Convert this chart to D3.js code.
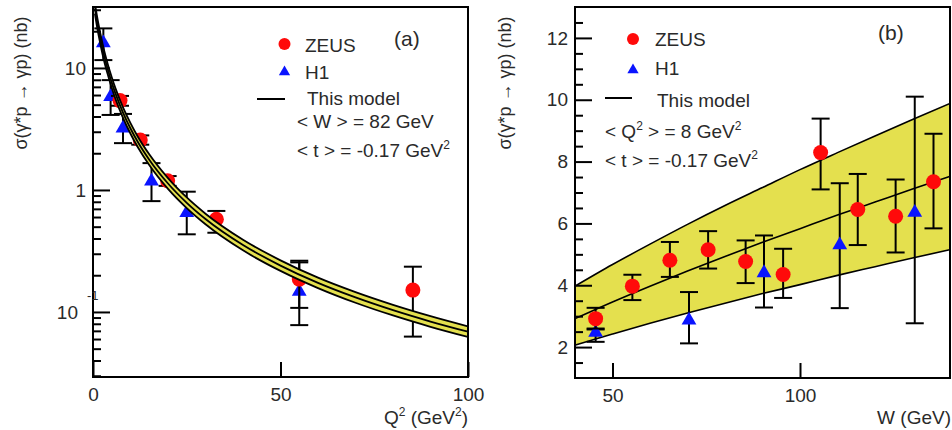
<!DOCTYPE html>
<html>
<head>
<meta charset="utf-8">
<script src="https://cdn.jsdelivr.net/npm/d3@7/dist/d3.min.js"></script>
<style>
  html, body { margin: 0; padding: 0; background: #fff; }
  svg { display: block; }
  text { font-family: "Liberation Sans", Arial, Helvetica, sans-serif; fill: #2a2a2a; }
</style>
</head>
<body>
<svg id="chart" width="952" height="430"></svg>
<script>
// ---- Panel (a): cross section vs Q^2 at <W> = 82 GeV ----
const zeusQ2     = [7.2, 12.6, 19.9, 32.9, 55.0, 85.3];
const zeusSigQ2  = [5.4, 2.57, 1.19, 0.575, 0.186, 0.151];
const zeusLoQ2   = [4.9, 2.35, 1.08, 0.446, 0.108, 0.0628];
const zeusHiQ2   = [5.9, 2.80, 1.30, 0.673, 0.255, 0.235];

const h1Q2       = [2.76, 4.7, 8.0, 15.6, 25.0, 55.0];
const h1SigQ2    = [16.0, 5.8, 3.2, 1.18, 0.65, 0.147];
const h1LoQ2     = [11.6, 4.12, 2.42, 0.81, 0.433, 0.078];
const h1HiQ2     = [21.1, 7.95, 4.2, 1.66, 0.968, 0.263];

const modelQ2    = [0.5, 1, 2, 3, 4, 5, 6, 8, 10, 12, 15, 20, 25, 30, 40, 50, 60, 70, 80, 90, 100];
const modelMidQ2 = [30.8, 24.7, 17.1, 12.5, 9.6, 7.58, 6.16, 4.31, 3.19, 2.46, 1.77, 1.13, 0.785, 0.578, 0.354, 0.240, 0.173, 0.1315, 0.1034, 0.0835, 0.0689];
const modelHiQ2  = [34.0, 27.3, 18.9, 13.8, 10.6, 8.4, 6.8, 4.76, 3.53, 2.72, 1.96, 1.25, 0.868, 0.639, 0.391, 0.265, 0.191, 0.1453, 0.1143, 0.0923, 0.0761];
const modelLoQ2  = [27.9, 22.4, 15.5, 11.3, 8.7, 6.86, 5.57, 3.9, 2.89, 2.23, 1.6, 1.02, 0.71, 0.523, 0.32, 0.217, 0.157, 0.119, 0.0936, 0.0756, 0.0624];

const q2Ticks    = [0, 50, 100];
const sigTicksA  = [0.1, 1, 10];

// ---- Panel (b): cross section vs W at <Q^2> = 8 GeV^2 ----
const zeusW      = [45.5, 55.3, 65.3, 75.5, 85.5, 95.5, 105.5, 115.4, 125.5, 135.6];
const zeusSigW   = [2.92, 3.97, 4.81, 5.15, 4.77, 4.35, 8.29, 6.45, 6.23, 7.35];
const zeusLoW    = [2.60, 3.52, 4.27, 4.54, 4.07, 3.59, 7.10, 5.30, 5.06, 5.84];
const zeusHiW    = [3.27, 4.34, 5.40, 5.75, 5.45, 5.18, 9.39, 7.60, 7.42, 8.90];

const h1W        = [45.5, 70.4, 90.4, 110.6, 130.6];
const h1SigW     = [2.47, 2.87, 4.40, 5.30, 6.35];
const h1LoW      = [2.17, 2.12, 3.28, 3.26, 2.77];
const h1HiW      = [2.57, 3.78, 5.61, 7.30, 10.1];

const modelW     = [40, 50, 60, 70, 80, 90, 100, 110, 120, 130, 140];
const modelHiW   = [3.97, 4.67, 5.33, 5.97, 6.58, 7.16, 7.74, 8.29, 8.83, 9.36, 9.88];
const modelMidW  = [2.92, 3.46, 3.97, 4.46, 4.93, 5.39, 5.83, 6.27, 6.69, 7.11, 7.52];
const modelLoW   = [2.06, 2.42, 2.77, 3.10, 3.42, 3.73, 4.02, 4.32, 4.60, 4.88, 5.15];

const wTicks     = [50, 100];
const sigTicksB  = [2, 4, 6, 8, 10, 12];

const yTitle = "σ(γ*p → γp) (nb)";

const RED = "#ff0a0a", BLUE = "#0a14ff", YELLOW = "#e4e04e";
const FS = 19;

const svg = d3.select("#chart");

function zipPts(xs, ys) { return xs.map((x, i) => ({ x, y: ys[i] })); }

function drawPanel(cfg) {
  const { x, y, id } = cfg;
  const [x0, x1] = x.range(), [y0, y1] = y.range();
  const g = svg.append("g");

  svg.append("defs").append("clipPath").attr("id", id)
    .append("rect").attr("x", x0).attr("y", y1).attr("width", x1 - x0).attr("height", y0 - y1);
  const plot = g.append("g").attr("clip-path", `url(#${id})`);

  const band = d3.area().x(d => x(d.x)).y0(d => y(d.lo)).y1(d => y(d.hi)).curve(d3.curveMonotoneX);
  const line = d3.line().x(d => x(d.x)).y(d => y(d.y)).curve(d3.curveMonotoneX);
  const bandData = cfg.mx.map((v, i) => ({ x: v, lo: cfg.mlo[i], hi: cfg.mhi[i] }));

  function drawModel() {
    plot.append("path").datum(bandData).attr("d", band).attr("fill", YELLOW);
    [cfg.mhi, cfg.mmid, cfg.mlo].forEach(arr => {
      plot.append("path").datum(zipPts(cfg.mx, arr)).attr("d", line)
        .attr("fill", "none").attr("stroke", "#000").attr("stroke-width", cfg.lw);
    });
  }

  function drawPoints(xs, ys, lo, hi, kind) {
    const eb = plot.append("g").attr("stroke", "#000").attr("stroke-width", 2);
    xs.forEach((v, i) => {
      const cx = x(v);
      eb.append("line").attr("x1", cx).attr("x2", cx).attr("y1", y(lo[i])).attr("y2", y(hi[i]));
      [lo[i], hi[i]].forEach(e => eb.append("line")
        .attr("x1", cx - 9).attr("x2", cx + 9).attr("y1", y(e)).attr("y2", y(e)));
    });
    const mk = plot.append("g");
    xs.forEach((v, i) => {
      if (kind === "circle") {
        mk.append("circle").attr("cx", x(v)).attr("cy", y(ys[i])).attr("r", 7.5).attr("fill", RED);
      } else {
        mk.append("path").attr("d", d3.symbol(d3.symbolTriangle, 95)())
          .attr("transform", `translate(${x(v)},${y(ys[i])})`).attr("fill", BLUE);
      }
    });
  }

  if (cfg.modelOnTop) {
    drawPoints(cfg.h1x, cfg.h1y, cfg.h1lo, cfg.h1hi, "tri");
    drawPoints(cfg.zx, cfg.zy, cfg.zlo, cfg.zhi, "circle");
    drawModel();
  } else {
    drawModel();
    drawPoints(cfg.h1x, cfg.h1y, cfg.h1lo, cfg.h1hi, "tri");
    drawPoints(cfg.zx, cfg.zy, cfg.zlo, cfg.zhi, "circle");
  }

  // axes: ticks point into the frame
  const yAx = g.append("g").attr("transform", `translate(${x0},0)`)
    .call(d3.axisLeft(y).tickValues(cfg.yMajor).tickSizeInner(-17).tickSizeOuter(0)
      .tickPadding(7).tickFormat(cfg.yFmt));
  yAx.append("g").call(d3.axisLeft(y).tickValues(cfg.yMinor).tickSizeInner(-8).tickSizeOuter(0).tickFormat(""));
  const xAx = g.append("g").attr("transform", `translate(0,${y0})`)
    .call(d3.axisBottom(x).tickValues(cfg.xMajor).tickSizeInner(-15).tickSizeOuter(0).tickPadding(11));
  [yAx, xAx].forEach(a => {
    a.selectAll(".domain").remove();
    a.selectAll("line").attr("stroke", "#000").attr("stroke-width", 2);
    a.selectAll("text").style("font-size", FS + "px").attr("fill", "#2a2a2a")
      .style("font-family", '"Liberation Sans", Arial, sans-serif');
  });

  // frame
  g.append("rect").attr("x", x0).attr("y", y1).attr("width", x1 - x0).attr("height", y0 - y1)
    .attr("fill", "none").attr("stroke", "#000").attr("stroke-width", 2);

  // exponent of the decade label sits over the axis line
  if (cfg.yPost) cfg.yPost(g, y, x0);

  // axis titles
  g.append("text").attr("transform", `translate(${cfg.yTitleX},83) rotate(-90)`)
    .attr("text-anchor", "middle").style("font-size", "18px").text(yTitle);
  const xt = g.append("text").attr("x", cfg.xTitleX).attr("y", 424).attr("text-anchor", "end")
    .style("font-size", FS + "px");
  cfg.xTitle(xt);

  // legend
  const L = cfg.leg;
  g.append("circle").attr("cx", L.mx).attr("cy", L.y[0]).attr("r", 6).attr("fill", RED);
  g.append("path").attr("d", d3.symbol(d3.symbolTriangle, 55)())
    .attr("transform", `translate(${L.mx},${L.y[1]})`).attr("fill", BLUE);
  g.append("line").attr("x1", L.lx[0]).attr("x2", L.lx[1]).attr("y1", L.y[2]).attr("y2", L.y[2])
    .attr("stroke", "#000").attr("stroke-width", 2);
  const t = (xx, yy) => g.append("text").attr("x", xx).attr("y", yy).style("font-size", FS + "px");
  t(L.tx, L.b[0]).text("ZEUS");
  t(L.tx, L.b[1]).text("H1");
  t(L.tx + 2, L.b[2]).text("This model");
  L.lines.forEach((ln, i) => {
    const tt = t(L.kx, L.b[3 + i]);
    ln.forEach(seg => {
      const sp = tt.append("tspan").text(seg.s);
      if (seg.sup) sp.attr("dy", -8).style("font-size", "12px");
      if (seg.after) sp.attr("dy", 8);
    });
  });
  g.append("text").attr("x", L.tag[0]).attr("y", L.tag[1]).style("font-size", "21px").text(L.tagText);
}

// Panel (a)
const xA = d3.scaleLinear().domain([0, 100]).range([93, 468]);
const yA = d3.scaleLog().domain([0.0293, 31.6]).range([377, 7]);
const minorA = [];
[0.01, 0.1, 1, 10].forEach(dec => d3.range(2, 10).forEach(k => {
  const v = dec * k; if (v > 0.0293 && v < 31.6) minorA.push(v);
}));

drawPanel({
  id: "clipA", x: xA, y: yA, lw: 1.8, modelOnTop: true,
  zx: zeusQ2, zy: zeusSigQ2, zlo: zeusLoQ2, zhi: zeusHiQ2,
  h1x: h1Q2, h1y: h1SigQ2, h1lo: h1LoQ2, h1hi: h1HiQ2,
  mx: modelQ2, mmid: modelMidQ2, mhi: modelHiQ2, mlo: modelLoQ2,
  yMajor: sigTicksA, yMinor: minorA, xMajor: q2Ticks,
  yFmt: d => (d === 0.1 ? "10" : d3.format("d")(d)),
  yPost: (g, y, x0) => {
    g.selectAll(".tick").filter(d => d === 0.1).select("text").attr("x", -15);
    g.append("text").attr("x", x0 - 6).attr("y", y(0.1) - 12)
      .style("font-size", "13px").attr("fill", "#2a2a2a").text("-1");
  },
  yTitleX: 27, xTitleX: 468,
  xTitle: tx => {
    tx.append("tspan").text("Q");
    tx.append("tspan").attr("dy", -8).style("font-size", "12px").text("2");
    tx.append("tspan").attr("dy", 8).text(" (GeV");
    tx.append("tspan").attr("dy", -8).style("font-size", "12px").text("2");
    tx.append("tspan").attr("dy", 8).text(")");
  },
  leg: {
    mx: 284.5, lx: [257, 285], tx: 305, kx: 297,
    y: [44, 72, 99], b: [52, 79, 105, 128, 157],
    lines: [
      [{ s: "< W > = 82 GeV" }],
      [{ s: "< t > = -0.17 GeV" }, { s: "2", sup: true }]
    ],
    tag: [394, 46], tagText: "(a)"
  }
});

// Panel (b)
const xB = d3.scaleLinear().domain([40, 140]).range([575, 950]);
const yB = d3.scaleLinear().domain([1, 13]).range([378, 7]);
const minorB = d3.range(1.5, 13, 0.5).filter(v => !sigTicksB.includes(v));

drawPanel({
  id: "clipB", x: xB, y: yB, lw: 1.6, modelOnTop: false,
  zx: zeusW, zy: zeusSigW, zlo: zeusLoW, zhi: zeusHiW,
  h1x: h1W, h1y: h1SigW, h1lo: h1LoW, h1hi: h1HiW,
  mx: modelW, mmid: modelMidW, mhi: modelHiW, mlo: modelLoW,
  yMajor: sigTicksB, yMinor: minorB, xMajor: wTicks,
  yFmt: d3.format("d"),
  yTitleX: 511, xTitleX: 951,
  xTitle: tx => tx.text("W (GeV)"),
  leg: {
    mx: 633, lx: [605, 632], tx: 655, kx: 605,
    y: [39, 70, 98], b: [46, 75, 107, 138, 167],
    lines: [
      [{ s: "< Q" }, { s: "2", sup: true }, { s: " > = 8 GeV", after: true }, { s: "2", sup: true }],
      [{ s: "< t > = -0.17 GeV" }, { s: "2", sup: true }]
    ],
    tag: [878, 40], tagText: "(b)"
  }
});
</script>
</body>
</html>
